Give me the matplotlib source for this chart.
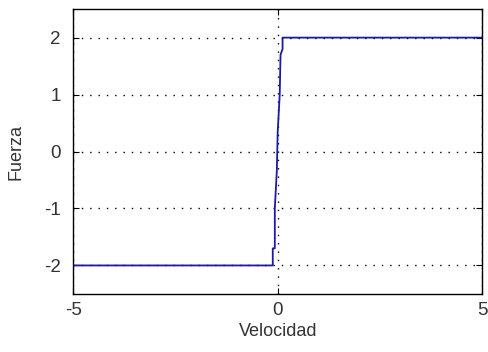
import matplotlib
matplotlib.use("Agg")
import matplotlib.pyplot as plt

# data
velocidad = [-5, -0.12, -0.12, -0.07, -0.07, -0.02, 0.0, 0.05, 0.07, 0.12, 0.12, 5]
fuerza = [-2, -2, -1.7, -1.7, -1.0, -0.33, 0.33, 1.0, 1.7, 1.8, 2, 2]

xticks = [-5, 0, 5]
yticks = [-2, -1, 0, 1, 2]

plt.rcParams['font.family'] = ['Liberation Sans', 'DejaVu Sans']

fig = plt.figure(figsize=(4.88, 3.52), dpi=100)
ax = fig.add_axes([0.150, 0.165, 0.838, 0.809])

ax.plot(velocidad, fuerza, color='#1a1aa6', linewidth=1.3)

ax.set_xlim(-5, 5)
ax.set_ylim(-2.5, 2.5)
ax.set_xticks(xticks)
ax.set_yticks(yticks)
ax.set_xticklabels([str(t) for t in xticks])
ax.set_yticklabels([str(t) for t in yticks])
ax.grid(True, color='black', linestyle=(0, (1, 5)), linewidth=1.0)
ax.tick_params(direction='in', top=True, right=True, length=4, labelsize=13.5,
               labelcolor='#333333')
ax.tick_params(axis='y', pad=9)
ax.tick_params(axis='x', pad=6)
for s in ax.spines.values():
    s.set_linewidth(1.0)
ax.set_xlabel('Velocidad', fontsize=13, labelpad=3, color='#333333')
ax.set_ylabel('Fuerza', fontsize=13, labelpad=14, color='#333333')

fig.savefig('out.png', dpi=100)
